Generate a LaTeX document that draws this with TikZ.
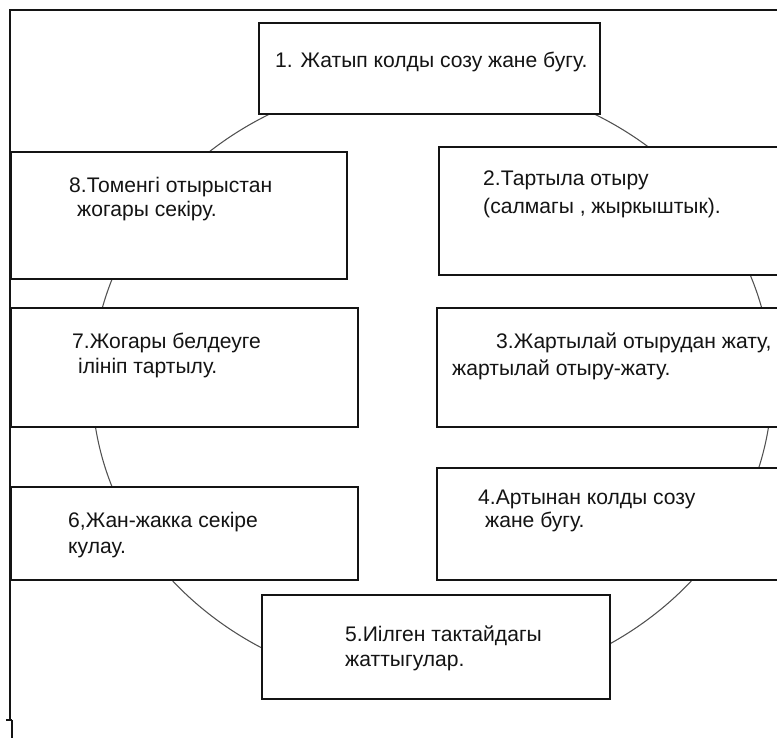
\documentclass[tikz,border=0pt]{standalone}
\usepackage{fontspec}
\setmainfont{Liberation Sans}
\usepackage{tikz}
\usetikzlibrary{positioning}
\definecolor{framegray}{RGB}{20,20,20}
\definecolor{ringgray}{RGB}{80,80,80}
\definecolor{textgray}{RGB}{20,20,20}

\begin{document}
\begin{tikzpicture}[x=0.03cm, y=-0.03cm,
        box/.style={line width=1.6pt, draw=framegray, fill=white},
        txt/.style={font=\fontsize{18}{22}\selectfont, text=textgray, anchor=base west, inner sep=0pt}]
        \clip (0,0) rectangle (777,738);
        \fill[white] (0,0) rectangle (777,738);

        % Ring behind the boxes
        \draw[line width=0.9pt, ringgray] (432,383) ellipse [x radius=340, y radius=306];

        % Outer frame
        \draw[line width=1.5pt, framegray] (10,720) -- (10,10) -- (790,10);
        \draw[line width=1.2pt, framegray] (6,720) -- (12,720);
        \draw[line width=1.8pt, framegray] (12,720) -- (12,740);

        % 1
        \draw[box] (259,23) rectangle (600,114);
        \node[txt] (t1) at (275,68) {1. Жатып колды созу жане бугу.};

        % 8
        \draw[box] (11,152) rectangle (347,279);
        \node[txt] (t8a) at (69,193) {8.Томенгі отырыстан};
        \node[txt] (t8b) at (77,217) {жогары секіру.};

        % 2
        \draw[box] (439,147) rectangle (800,275);
        \node[txt] (t2a) at (483,186) {2.Тартыла отыру};
        \node[txt] (t2b) at (483,214) {(салмагы , жыркыштык).};

        % 7
        \draw[box] (11,308) rectangle (358,427);
        \node[txt] (t7a) at (72,349) {7.Жогары белдеуге};
        \node[txt] (t7b) at (78,374) {ілініп тартылу.};

        % 3
        \draw[box] (437,308) rectangle (800,427);
        \node[txt] (t3a) at (496,349) {3.Жартылай отырудан жату,};
        \node[txt] (t3b) at (452,376) {жартылай отыру-жату.};

        % 6
        \draw[box] (11,487) rectangle (358,580);
        \node[txt] (t6a) at (68,528) {6,Жан-жакка секіре};
        \node[txt] (t6b) at (68,553) {кулау.};

        % 4
        \draw[box] (437,468) rectangle (800,580);
        \node[txt] (t4a) at (478,504) {4.Артынан колды созу};
        \node[txt] (t4b) at (485,528) {жане бугу.};

        % 5
        \draw[box] (262,595) rectangle (610,699);
        \node[txt] (t5a) at (345,641) {5.Иілген тактайдагы};
        \node[txt] (t5b) at (345,666) {жаттыгулар.};

    \end{tikzpicture}
\end{document}
